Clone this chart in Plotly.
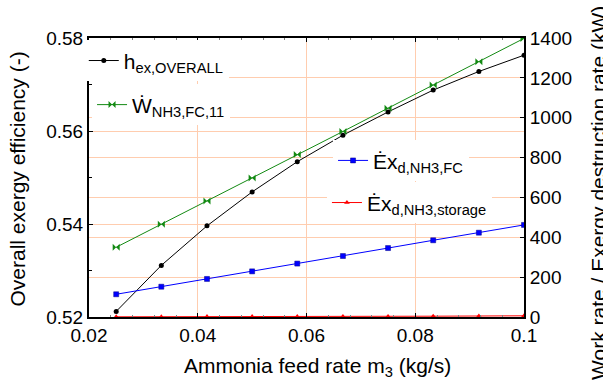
import plotly.graph_objects as go

# ---- data ----
m3 = [0.025, 0.0333, 0.0417, 0.05, 0.0583, 0.0667, 0.075, 0.0833, 0.0917, 0.1]
eta_overall = [0.5212, 0.5311, 0.5396, 0.5469, 0.5534, 0.5591, 0.5641, 0.5688, 0.5728, 0.5763]
w_fc = [350, 465, 582, 698, 815, 931, 1048, 1164, 1281, 1398]
ex_fc = [114, 152, 191, 229, 268, 306, 346, 385, 423, 462]
ex_storage = [1, 1, 2, 2, 2, 3, 3, 4, 5, 6]

name_eta = "h<sub>ex,OVERALL</sub>"
name_w = "\u1E86<sub>NH3,FC,11</sub>"
name_exfc = "\u0116x<sub>d,NH3,FC</sub>"
name_exst = "\u0116x<sub>d,NH3,storage</sub>"

x_title = "Ammonia feed rate m<sub>3</sub> (kg/s)"
y_title = "Overall exergy efficiency (-)"
y2_title = "Work rate / Exergy destruction rate (kW)"

FONT = "Liberation Sans, Arial, sans-serif"
GRID = "rgb(255,205,175)"

fig = go.Figure()
fig.add_trace(go.Scatter(x=m3, y=eta_overall, name=name_eta, mode="lines+markers",
                         line=dict(color="black", width=1),
                         marker=dict(symbol="circle", size=5, color="black"),
                         legend="legend", yaxis="y"))
fig.add_trace(go.Scatter(x=m3, y=w_fc, name=name_w, mode="lines+markers",
                         line=dict(color="#138a13", width=1),
                         marker=dict(symbol="bowtie", size=7, color="#138a13"),
                         legend="legend2", yaxis="y2"))
fig.add_trace(go.Scatter(x=m3, y=ex_fc, name=name_exfc, mode="lines+markers",
                         line=dict(color="#0000ff", width=1),
                         marker=dict(symbol="square", size=5, color="#0000ff", line=dict(color="#00008b", width=0.5)),
                         legend="legend3", yaxis="y2"))
fig.add_trace(go.Scatter(x=m3, y=ex_storage, name=name_exst, mode="lines+markers",
                         line=dict(color="#ff0000", width=1),
                         marker=dict(symbol="triangle-up", size=5, color="#ff0000"),
                         legend="legend4", yaxis="y2"))

leg_common = dict(bgcolor="white", borderwidth=0, font=dict(family=FONT, size=21, color="black"),
                  itemwidth=30, xanchor="left", yanchor="middle", xref="paper", yref="paper")

fig.update_layout(
    width=603, height=387,
    margin=dict(l=89, r=79, t=38, b=70),
    paper_bgcolor="white", plot_bgcolor="white",
    font=dict(family=FONT, size=19, color="black"),
    showlegend=True,
    legend=dict(x=-0.012, y=0.918, **leg_common),
    legend2=dict(x=0.007, y=0.76, **leg_common),
    legend3=dict(x=0.561, y=0.56, **leg_common),
    legend4=dict(x=0.547, y=0.409, **leg_common),
    xaxis=dict(range=[0.02, 0.1], dtick=0.02, tick0=0.02,
               showline=True, linecolor="black", linewidth=2, mirror="ticks",
               ticks="inside", ticklen=4, tickcolor="black",
               showgrid=True, gridcolor=GRID, gridwidth=1, zeroline=False,
               minor=dict(dtick=0.004, tick0=0.02, ticks="inside", ticklen=2, tickcolor="gray", showgrid=False),
               tickfont=dict(size=19)),
    yaxis=dict(range=[0.52, 0.58], dtick=0.02, tickformat=".2f",
               showline=True, linecolor="black", linewidth=2,
               ticks="inside", ticklen=4, tickcolor="black",
               showgrid=True, gridcolor=GRID, gridwidth=1, zeroline=False,
               minor=dict(dtick=0.01, ticks="inside", ticklen=3, tickcolor="black", showgrid=False),
               tickfont=dict(size=19)),
    yaxis2=dict(range=[0, 1400], dtick=200, overlaying="y", side="right",
                showline=True, linecolor="black", linewidth=2,
                ticks="inside", ticklen=4, tickcolor="black",
                showgrid=True, gridcolor=GRID, gridwidth=1, zeroline=False,
                tickfont=dict(size=19)),
    annotations=[
        dict(text=x_title, xref="paper", yref="paper", x=0.525, y=-0.178,
             xanchor="center", yanchor="middle", showarrow=False, font=dict(size=21)),
        dict(text=y_title, xref="paper", yref="paper", x=-0.164, y=0.495, textangle=-90,
             xanchor="center", yanchor="middle", showarrow=False, font=dict(size=21)),
        dict(text=y2_title, xref="paper", yref="paper", x=1.171, y=0.446, textangle=-90,
             xanchor="center", yanchor="middle", showarrow=False, font=dict(size=21)),
    ],
)

fig.write_html("out.html")
